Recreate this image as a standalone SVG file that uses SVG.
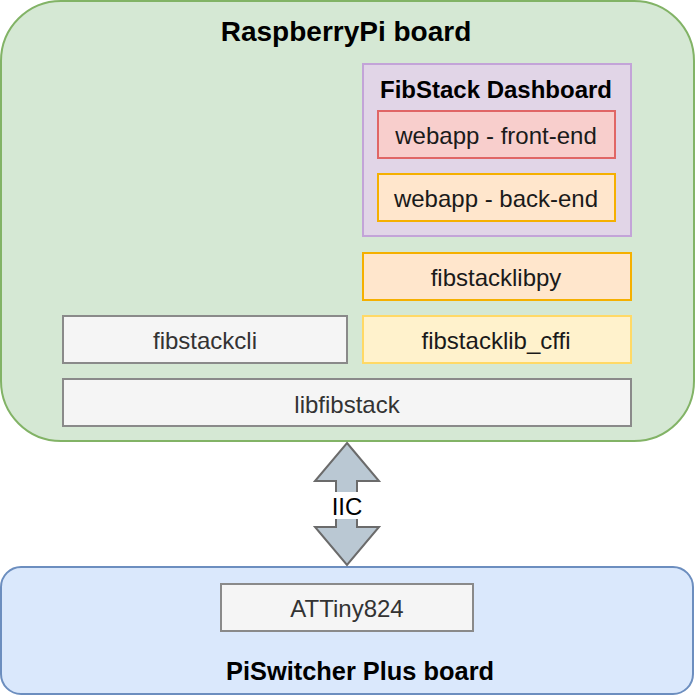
<svg xmlns="http://www.w3.org/2000/svg" width="696" height="696" viewBox="0 0 696 696">
<style>
text{font-family:"Liberation Sans",Arial,sans-serif;text-anchor:middle;dominant-baseline:central}
.t{font-size:24px;fill:#1a1a1a}
.g{font-size:24px;fill:#333333}
.b{font-weight:bold;fill:#000}
.gray{fill:#f5f5f5;stroke:#8a8a8a;stroke-width:2}
.or{fill:#ffe6cc;stroke:#f5b000;stroke-width:2}
</style>
<rect width="696" height="696" fill="#ffffff"/>
<g id="raspberrypi-board">
<rect x="1" y="1" width="693" height="440" rx="60" ry="60" fill="#d5e8d4" stroke="#82b366" stroke-width="2"/>
<text class="b" x="346" y="31" font-size="28">RaspberryPi board</text>
</g>
<g id="piswitcher-board">
<rect x="1" y="567" width="692" height="127" rx="20" ry="20" fill="#dae8fc" stroke="#6c8ebf" stroke-width="2"/>
<text class="b" x="360" y="671" font-size="25.4">PiSwitcher Plus board</text>
</g>
<g id="dashboard">
<rect x="363" y="64" width="268" height="172" fill="#e1d5e7" stroke="#c3a4d8" stroke-width="2"/>
<text class="b" x="496" y="89" font-size="24">FibStack Dashboard</text>
</g>
<g id="frontend">
<rect x="378" y="111" width="237" height="47" fill="#f8cecc" stroke="#e06666" stroke-width="2"/>
<text class="t" x="496" y="135">webapp - front-end</text>
</g>
<g id="backend">
<rect class="or" x="378" y="174" width="237" height="47"/>
<text class="t" x="496" y="198">webapp - back-end</text>
</g>
<g id="fibstacklibpy">
<rect class="or" x="363" y="253" width="268" height="47"/>
<text class="t" x="496" y="277">fibstacklibpy</text>
</g>
<g id="fibstacklib_cffi">
<rect x="363" y="316" width="268" height="47" fill="#fff2cc" stroke="#ffd966" stroke-width="2"/>
<text class="t" x="496" y="340">fibstacklib_cffi</text>
</g>
<g id="fibstackcli">
<rect class="gray" x="63" y="316" width="284" height="47"/>
<text class="g" x="205" y="340">fibstackcli</text>
</g>
<g id="libfibstack">
<rect class="gray" x="63" y="379" width="568" height="47"/>
<text class="g" x="347" y="404">libfibstack</text>
</g>
<g id="attiny824">
<rect class="gray" x="221" y="584" width="252" height="47"/>
<text class="g" x="347" y="608">ATTiny824</text>
</g>
<g id="connectors">
<polygon points="347,443 379,481 357,481 357,527 379,527 347,565 315,527 336,527 336,481 315,481" fill="#bac8d3" stroke="#6b6b6b" stroke-width="2" stroke-linejoin="miter"/>
<rect x="331" y="492" width="32" height="27" fill="#ffffff"/>
<text class="t" x="347" y="506" style="fill:#000">IIC</text>
</g>
</svg>
